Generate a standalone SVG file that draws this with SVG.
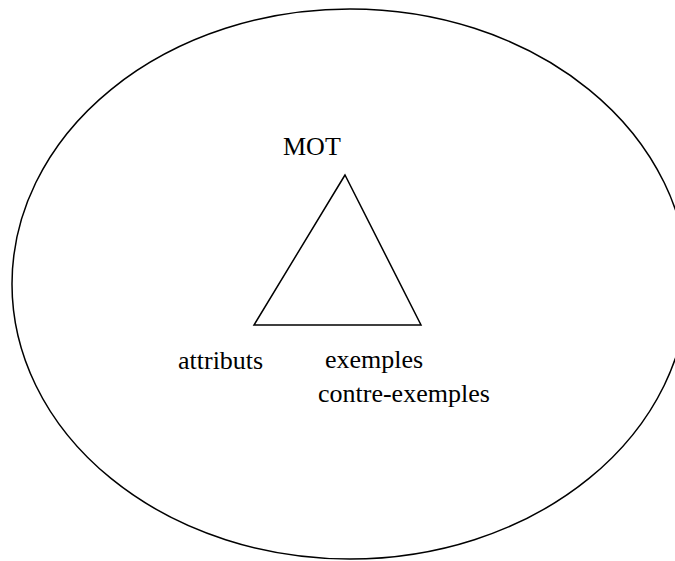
<svg xmlns="http://www.w3.org/2000/svg" width="675" height="561" viewBox="0 0 675 561">
<style>
.s{fill:none;stroke:#000;stroke-width:1.5}
.t{font-family:"Liberation Serif","Times New Roman",serif;font-size:26px;fill:#000}
</style>
<rect width="675" height="561" fill="#fff"/>
<g id="boundary"><ellipse class="s" cx="350" cy="284" rx="338" ry="275"/></g>
<g id="triangle"><polygon class="s" points="345,175 254,325 421,325"/></g>
<g id="labels">
<text class="t" x="283" y="155">MOT</text>
<text class="t" x="178" y="369">attributs</text>
<text class="t" x="325" y="368">exemples</text>
<text class="t" x="318" y="402">contre-exemples</text>
</g>
</svg>
